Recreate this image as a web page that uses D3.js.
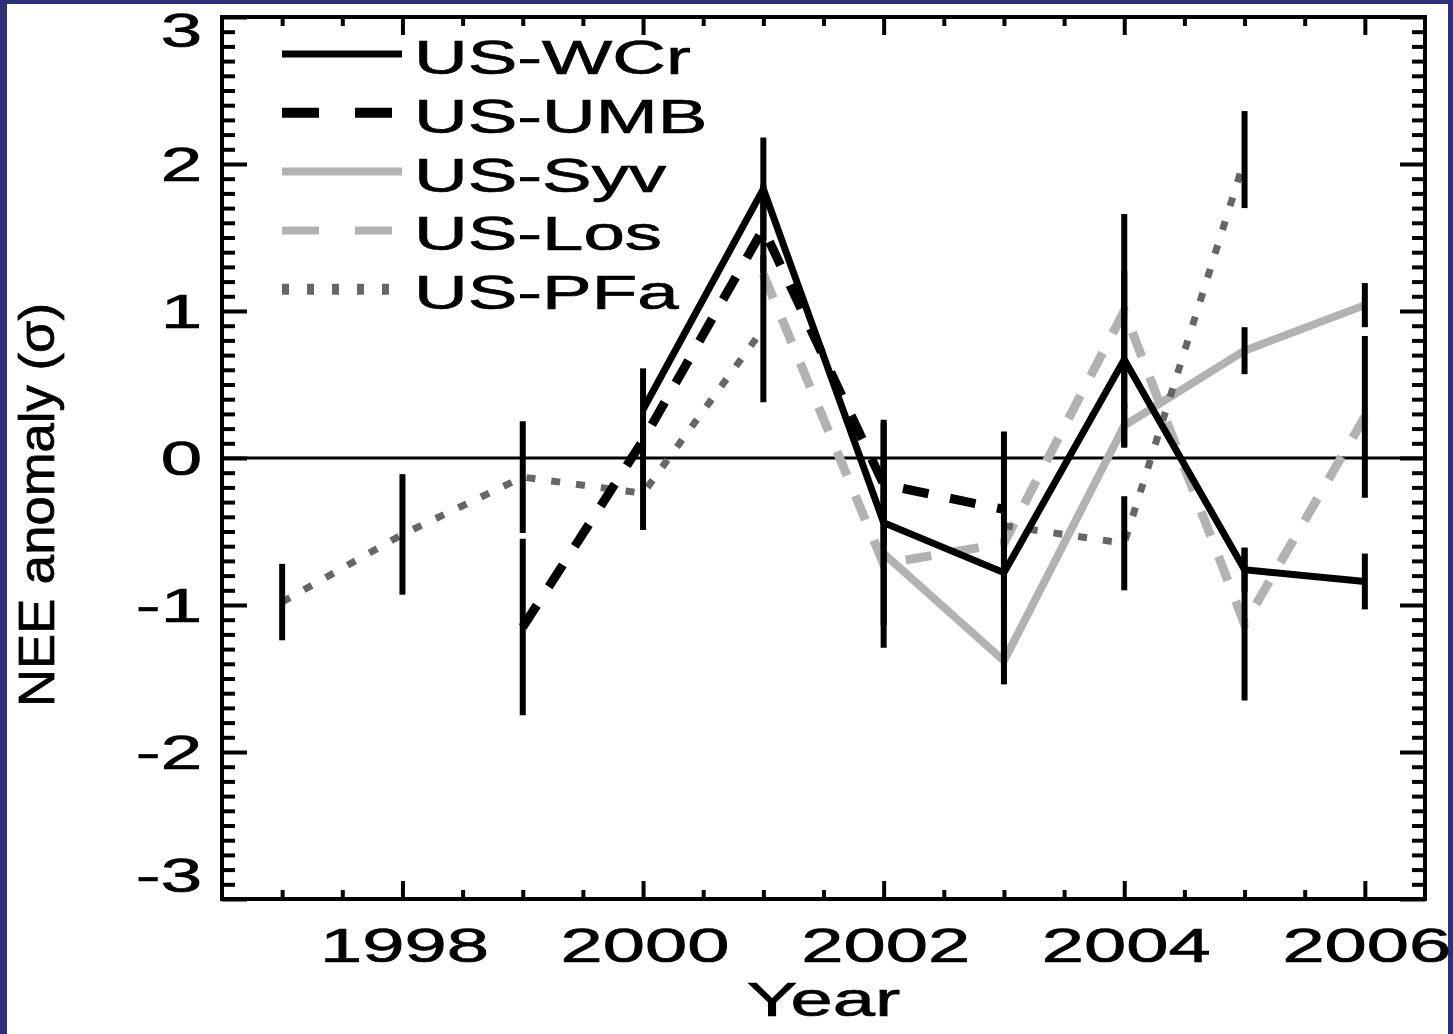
<!DOCTYPE html>
<html><head><meta charset="utf-8">
<script src="https://cdn.jsdelivr.net/npm/d3@7"></script>
<style>
html,body{margin:0;padding:0;background:#2e2f7a;}
svg{display:block;}
text{font-family:"Liberation Sans",Arial,Helvetica,sans-serif;fill:#000;stroke:#000;stroke-width:0.7px;}
</style>
</head><body>
<svg id="chart" width="1453" height="1034"></svg>
<script>
// ---------------- data ----------------
const years = [1997, 1998, 1999, 2000, 2001, 2002, 2003, 2004, 2005, 2006];
const seriesNames = ["US-WCr", "US-UMB", "US-Syv", "US-Los", "US-PFa"];
const wcrValues = [null, null, null, 0.33, 1.83, -0.44, -0.78, 0.67, -0.76, -0.84];
const wcrErrors = [null, null, null, 0.28, 0.35, 0.70, 0.25, 0.60, 0.15, 0.19];
const umbValues = [null, null, -1.15, 0.12, 1.56, -0.18, -0.35, null, null, null];
const umbErrors = [null, null, 0.60, 0.12, 0.30, 0.42, null, null, null, null];
const syvValues = [null, null, null, null, null, -0.65, -1.38, 0.22, 0.73, 1.04];
const syvErrors = [null, null, null, null, null, 0.64, 0.16, 0.14, 0.16, 0.15];
const losValues = [null, null, null, null, 1.25, -0.72, -0.58, 1.00, -1.13, 0.28];
const losErrors = [null, null, null, null, null, null, 0.76, 0.66, 0.52, 0.55];
const pfaValues = [-0.98, -0.52, -0.13, -0.24, 0.88, null, -0.46, -0.58, 2.03, null];
const pfaErrors = [0.26, 0.41, 0.38, 0.25, 0.50, null, null, 0.32, 0.33, null];
const yTickValues = [-3, -2, -1, 0, 1, 2, 3];
const xTickValues = [1998, 2000, 2002, 2004, 2006];
const xMinorTicks = [1997, 1997.5, 1998.5, 1999, 1999.5, 2000.5, 2001, 2001.5, 2002.5, 2003, 2003.5, 2004.5, 2005, 2005.5];
const xDomain = [1996.5, 2006.5];
const yDomain = [-3, 3];
const xTitle = "Year";
const yTitle = "NEE anomaly (\u03c3)";

// ---------------- styles ----------------
const styles = {
  "US-WCr": {color: "#000000", width: 7, dash: null, legDash: null, legWidth: 7},
  "US-UMB": {color: "#000000", width: 9, dash: "26,22", legDash: "37,36", legWidth: 10},
  "US-Syv": {color: "#b2b2b2", width: 8, dash: null, legDash: null, legWidth: 8},
  "US-Los": {color: "#b2b2b2", width: 9, dash: "26,22", legDash: "37,36", legWidth: 8},
  "US-PFa": {color: "#666666", width: 7, dash: "9,16", legDash: "7,18", legWidth: 11}
};
const seriesValues = [wcrValues, umbValues, syvValues, losValues, pfaValues];
const seriesErrors = [wcrErrors, umbErrors, syvErrors, losErrors, pfaErrors];
const series = seriesNames.map((n, i) => ({
  name: n,
  pts: years.map((yr, j) => ({year: yr, v: seriesValues[i][j], e: seriesErrors[i][j]}))
}));

const W = 1453, H = 1034;
const L = 222, R = 1425, T = 17, B = 899;
const SX = 1.55; // horizontal stretch of lettering
const svg = d3.select("#chart");

svg.append("rect").attr("x", 7).attr("y", 4).attr("width", 1441).attr("height", H - 4).attr("fill", "#ffffff");

const x = d3.scaleLinear().domain(xDomain).range([L, R]);
const y = d3.scaleLinear().domain(yDomain).range([B, T]);

// zero line
svg.append("line").attr("x1", L).attr("x2", R).attr("y1", y(0)).attr("y2", y(0))
  .attr("stroke", "#000").attr("stroke-width", 3);

// series lines
const drawOrder = ["US-Los", "US-Syv", "US-PFa", "US-UMB", "US-WCr"];
const line = d3.line().defined(d => d.v !== null).x(d => x(d.year)).y(d => y(d.v));
const gLines = svg.append("g");
drawOrder.forEach(n => {
  const s = series.find(q => q.name === n), st = styles[n];
  gLines.append("path").datum(s.pts).attr("d", line)
    .attr("fill", "none").attr("stroke", st.color).attr("stroke-width", st.width)
    .attr("stroke-dasharray", st.dash).attr("stroke-linejoin", "miter").attr("stroke-miterlimit", 10)
    .attr("stroke-linecap", "butt");
});

// error bars
const gErr = svg.append("g");
series.forEach(s => {
  gErr.selectAll(null).data(s.pts.filter(d => d.v !== null && d.e !== null)).enter().append("line")
    .attr("x1", d => x(d.year)).attr("x2", d => x(d.year))
    .attr("y1", d => y(d.v - d.e)).attr("y2", d => y(d.v + d.e))
    .attr("stroke", "#000").attr("stroke-width", 6);
});

// axes (ticks inside on all four sides)
function styleAxis(g) {
  g.select(".domain").remove();
  g.selectAll(".tick line").attr("stroke", "#000").attr("stroke-width", 4);
  g.selectAll(".tick text").remove();
}
const yMinor = d3.range(-30, 31).map(v => v / 10).filter(v => Math.abs(v - Math.round(v)) > 1e-6);
svg.append("g").attr("transform", `translate(${L},0)`).call(d3.axisLeft(y).tickValues(yTickValues).tickSize(-25).tickFormat("")).call(styleAxis);
svg.append("g").attr("transform", `translate(${L},0)`).call(d3.axisLeft(y).tickValues(yMinor).tickSize(-13).tickFormat("")).call(styleAxis);
svg.append("g").attr("transform", `translate(${R},0)`).call(d3.axisRight(y).tickValues(yTickValues).tickSize(-25).tickFormat("")).call(styleAxis);
svg.append("g").attr("transform", `translate(${R},0)`).call(d3.axisRight(y).tickValues(yMinor).tickSize(-13).tickFormat("")).call(styleAxis);
svg.append("g").attr("transform", `translate(0,${B})`).call(d3.axisBottom(x).tickValues(xTickValues).tickSize(-18).tickFormat("")).call(styleAxis);
svg.append("g").attr("transform", `translate(0,${B})`).call(d3.axisBottom(x).tickValues(xMinorTicks).tickSize(-9).tickFormat("")).call(styleAxis);
svg.append("g").attr("transform", `translate(0,${T})`).call(d3.axisTop(x).tickValues(xTickValues).tickSize(-18).tickFormat("")).call(styleAxis);
svg.append("g").attr("transform", `translate(0,${T})`).call(d3.axisTop(x).tickValues(xMinorTicks).tickSize(-9).tickFormat("")).call(styleAxis);

// frame
svg.append("rect").attr("x", L).attr("y", T).attr("width", R - L).attr("height", B - T)
  .attr("fill", "none").attr("stroke", "#000").attr("stroke-width", 4);

// tick labels
const FS = 48;
svg.append("g").selectAll("text").data(yTickValues).enter().append("text")
  .attr("transform", (d, i) => {
    let yy = y(d) + 17;
    if (i === yTickValues.length - 1) yy = y(d) + 30;
    if (i === 0) yy = y(d) - 7;
    return `translate(202,${yy}) scale(${SX},1)`;
  })
  .attr("text-anchor", "end").attr("font-size", FS).text(d => d3.format("d")(d).replace("\u2212", "-"));
svg.append("g").selectAll("text").data(xTickValues).enter().append("text")
  .attr("transform", d => `translate(${x(d) + 2},962) scale(${SX},1)`)
  .attr("text-anchor", "middle").attr("font-size", 49).text(d => d);

// axis titles
svg.append("text").attr("transform", `translate(${(L + R) / 2},1016) scale(${SX},1)`)
  .attr("text-anchor", "middle").attr("font-size", 49).text(xTitle);
svg.append("text").attr("transform", "translate(54,505) rotate(-90) scale(1,1.08)")
  .attr("text-anchor", "middle").attr("font-size", 46)
  .attr("textLength", 404).attr("lengthAdjust", "spacingAndGlyphs").text(yTitle);

// legend
const legY0 = 54, legDY = 58.8;
const gLeg = svg.append("g");
seriesNames.forEach((n, i) => {
  const st = styles[n], yy = legY0 + i * legDY;
  gLeg.append("line").attr("x1", 282).attr("x2", 402).attr("y1", yy).attr("y2", yy)
    .attr("stroke", st.color).attr("stroke-width", st.legWidth).attr("stroke-dasharray", st.legDash);
  gLeg.append("text").attr("transform", `translate(414,${yy + 20}) scale(${SX},1)`)
    .attr("font-size", FS).text(n);
});
</script>
</body></html>
